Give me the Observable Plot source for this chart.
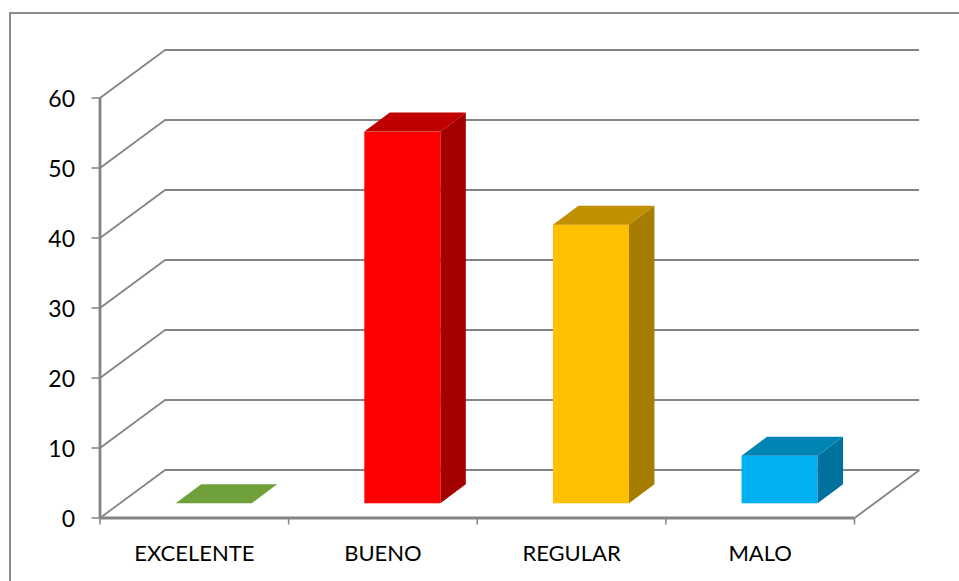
<!DOCTYPE html>
<html><head><meta charset="utf-8">
<script src="https://cdn.jsdelivr.net/npm/d3@7"></script>
<script src="https://cdn.jsdelivr.net/npm/@observablehq/plot@0.6"></script>
<style>
html,body{margin:0;padding:0;background:#fff;overflow:hidden}
#chart{position:relative;width:959px;height:581px;overflow:hidden}
#chart svg{display:block;position:absolute;left:0;top:0;background:transparent}
#frame{position:absolute;left:9px;top:12px;width:960px;height:600px;border-left:2px solid #8c8c8c;border-top:2px solid #8c8c8c}
</style></head><body>
<div id="chart"><div id="frame"></div></div>
<script>
const categories = ["EXCELENTE", "BUENO", "REGULAR", "MALO"];
const values = [0, 53.1, 39.8, 6.8];
const yTicks = [0, 10, 20, 30, 40, 50, 60];
const xBoundaries = [0, 1, 2, 3, 4];

const frontColors = ["#70a03a", "#ff0000", "#ffc000", "#00b0f0"];
const topColors = ["#70a03a", "#c00000", "#c09000", "#0084b4"];
const sideColors = ["#70a03a", "#a50000", "#a67d00", "#00719c"];

// Fake 3D depth, expressed in data units
const wallDx = 0.345, wallDy = 6.86;
const barStart = 0.404, barWidth = 0.403, barDx = 0.135, barDy = 2.72, floorLift = 2.03;
const lineColor = "#848484";

const bars = categories.map((category, i) => ({
  category, value: values[i],
  x1: i + barStart, x2: i + barStart + barWidth,
  y1: floorLift, y2: floorLift + values[i],
  front: frontColors[i], top: topColors[i], side: sideColors[i]
}));
const sideFaces = bars.flatMap(b => [
  {category: b.category, side: b.side, value: b.value, x: b.x2, y1: b.y1, y2: b.y2},
  {category: b.category, side: b.side, value: b.value, x: b.x2 + barDx, y1: b.y1 + barDy, y2: b.y2 + barDy}
]);
const topFaces = bars.flatMap(b => [
  {category: b.category, top: b.top, y: b.y2, x1: b.x1, x2: b.x2},
  {category: b.category, top: b.top, y: b.y2 + barDy, x1: b.x1 + barDx, x2: b.x2 + barDx}
]);

const plot = Plot.plot({
  width: 959, height: 581,
  marginLeft: 99.5, marginRight: 105, marginTop: 97.5, marginBottom: 63.5,
  x: {type: "linear", domain: [0, 4], label: null},
  y: {type: "linear", domain: [0, 60], label: null},
  style: {fontFamily: "Lato", fontSize: "23px", color: "#000", background: "transparent"},
  marks: [
    // Walls and floor
    Plot.ruleY(yTicks, {y: d => d + wallDy, x1: wallDx, x2: 4 + wallDx, stroke: lineColor, strokeWidth: 2.2}),
    Plot.link(yTicks, {x1: 0, y1: d => d, x2: wallDx, y2: d => d + wallDy, stroke: lineColor, strokeWidth: 1.8}),
    Plot.link([0], {x1: 4, y1: 0, x2: 4 + wallDx, y2: wallDy, stroke: lineColor, strokeWidth: 1.8}),
    // Bars
    Plot.rect(bars.filter(b => b.value > 0), {x1: "x1", x2: "x2", y1: "y1", y2: "y2", fill: "front"}),
    Plot.areaY(sideFaces.filter(d => d.value > 0), {x: "x", y1: "y1", y2: "y2", z: "category", fill: "side"}),
    Plot.areaX(topFaces, {y: "y", x1: "x1", x2: "x2", z: "category", fill: "top"}),
    // Axes
    Plot.ruleX([0], {y1: 0, y2: 60, stroke: lineColor, strokeWidth: 2.8}),
    Plot.ruleY([0], {x1: 0, x2: 4, stroke: lineColor, strokeWidth: 2.8}),
    Plot.axisY({ticks: yTicks, anchor: "left", tickSize: 8, tickFormat: () => "", stroke: lineColor, strokeWidth: 1.5, label: null}),
    Plot.axisX({ticks: xBoundaries, anchor: "bottom", tickSize: 7, tickFormat: () => "", stroke: lineColor, strokeWidth: 1.5, label: null}),
    Plot.text(yTicks, {x: 0, y: d => d, dx: -25, dy: 1.5, text: d => String(d), textAnchor: "end", fill: "#000", fontSize: 23}),
    Plot.text(categories, {x: (d, i) => i + 0.5, y: 0, dy: 36, text: d => d, fill: "#000", fontSize: 22})
  ]
});
document.getElementById("chart").appendChild(plot);
</script>
</body></html>
